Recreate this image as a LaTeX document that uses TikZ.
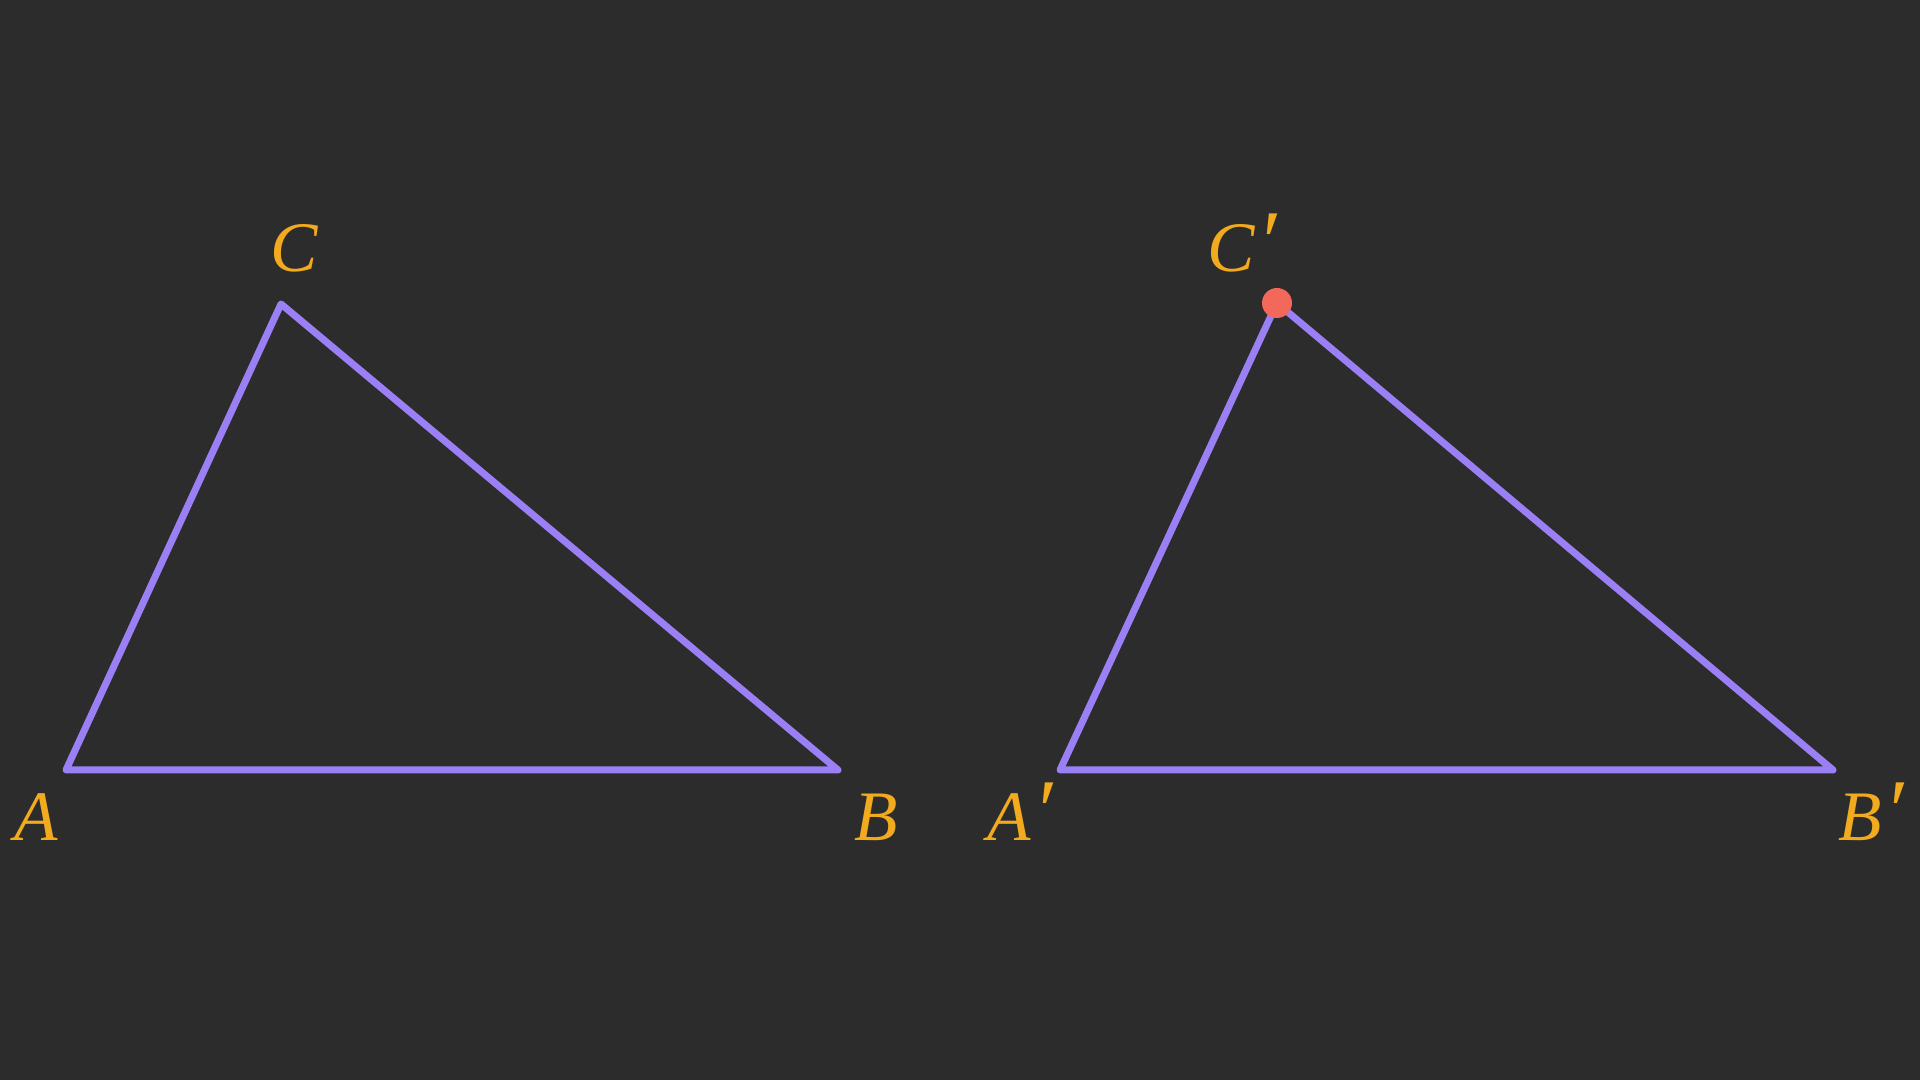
\documentclass[tikz,border=0pt]{standalone}
\usepackage{fontspec}
\setmainfont{Liberation Serif}
\definecolor{bgc}{HTML}{2C2C2C}
\definecolor{edgec}{HTML}{9B80F5}
\definecolor{labc}{HTML}{F2AA1E}
\definecolor{dotc}{HTML}{F2685A}
\newcommand{\myprime}{\kern2pt{\fontsize{88}{88}\selectfont ′}}
\begin{document}
\begin{tikzpicture}[x=1pt,y=1pt,
  edge/.style={draw=edgec,line width=7pt,line join=round,line cap=round},
  lab/.style={text=labc,anchor=base,inner sep=0pt,font=\fontsize{71}{80}\selectfont\itshape}]
\fill[bgc] (0,0) rectangle (1920,1080);
\useasboundingbox (0,0) rectangle (1920,1080);
\coordinate (A) at (66,310);
\coordinate (B) at (838,310);
\coordinate (C) at (281,776);
\coordinate (A2) at (1060,310);
\coordinate (B2) at (1833,310);
\coordinate (C2) at (1277,777);
\draw[edge] (A) -- (B) -- (C) -- cycle;
\draw[edge] (A2) -- (B2) -- (C2) -- cycle;
\fill[dotc] (C2) circle (15);
\node[lab] (lA) at (36,240) {A};
\node[lab] (lB) at (876,240) {B};
\node[lab] (lC) at (294,808) {C};
\node[lab] (lA2) at (1020,240) {A\myprime};
\node[lab] (lB2) at (1871,240) {B\myprime};
\node[lab] (lC2) at (1242,808) {C\myprime};
\end{tikzpicture}
\end{document}
